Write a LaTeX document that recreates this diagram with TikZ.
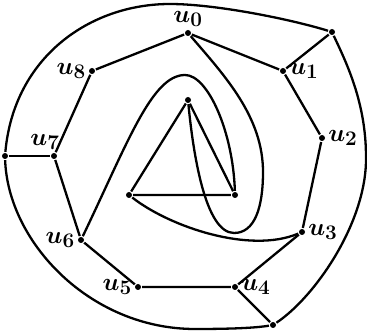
\documentclass[tikz,border=0pt]{standalone}
\usetikzlibrary{positioning}
\begin{document}
\begin{tikzpicture}[
  x=1pt, y=1pt, font=\Huge\boldmath, line width=2.3pt,
  vtx/.style={circle, fill, inner sep=0pt, minimum size=6pt},
  every label/.style={inner sep=1pt}
]
  \useasboundingbox (0,0) rectangle (367,332);
  % inner ring
  \node[vtx, label=above:$u_0$] (u0) at (188,299) {};
  \node[vtx, label=right:$u_1$] (u1) at (283,261) {};
  \node[vtx, label=right:$u_2$] (u2) at (322,194) {};
  \node[vtx, label=right:$u_3$] (u3) at (302,100) {};
  \node[vtx, label=right:$u_4$] (u4) at (235,45) {};
  \node[vtx, label=left:$u_5$] (u5) at (138,45) {};
  \node[vtx, label=left:$u_6$] (u6) at (81,92) {};
  \node[vtx, label={[xshift=-9pt]above:$u_7$}] (u7) at (54,176) {};
  \node[vtx, label=left:$u_8$] (u8) at (92,261) {};
  % outer ring
  \node[vtx] (w1) at (332,300) {};
  \node[vtx] (w7) at (5,176) {};
  \node[vtx] (w4) at (273,7) {};
  % triangle
  \node[vtx] (ta) at (188,232) {};
  \node[vtx] (tb) at (129,137) {};
  \node[vtx] (tc) at (235,137) {};

  \draw (u0) -- (u1) -- (u2) -- (u3) -- (u4) -- (u5) -- (u6) -- (u7) -- (u8) -- (u0);
  \draw (u1) -- (w1);
  \draw (u7) -- (w7);
  \draw (u4) -- (w4);
  \draw (ta) -- (tb) -- (tc) -- (ta);

  \draw (u0) .. controls (225,256) and (263,215) .. (263,160)
    .. controls (263,125) and (255,99) .. (234,99)
    .. controls (205,99) and (193,180) .. (ta);
  \draw (u6) .. controls (128,190) and (152,257) .. (185,257)
    .. controls (208,257) and (233,200) .. (tc);
  \draw (tb) .. controls (170,105) and (250,78) .. (u3);

  % outer curves
  \draw (w1) .. controls (290,313) and (215,328) .. (170,328)
    .. controls (90,328) and (14,275) .. (w7);
  \draw (w7) .. controls (8,90) and (90,3) .. (195,3)
    .. controls (230,3) and (255,4) .. (w4);
  \draw (w4) .. controls (315,35) and (367,110) .. (366,175)
    .. controls (366,230) and (346,270) .. (w1);
\end{tikzpicture}
\end{document}
